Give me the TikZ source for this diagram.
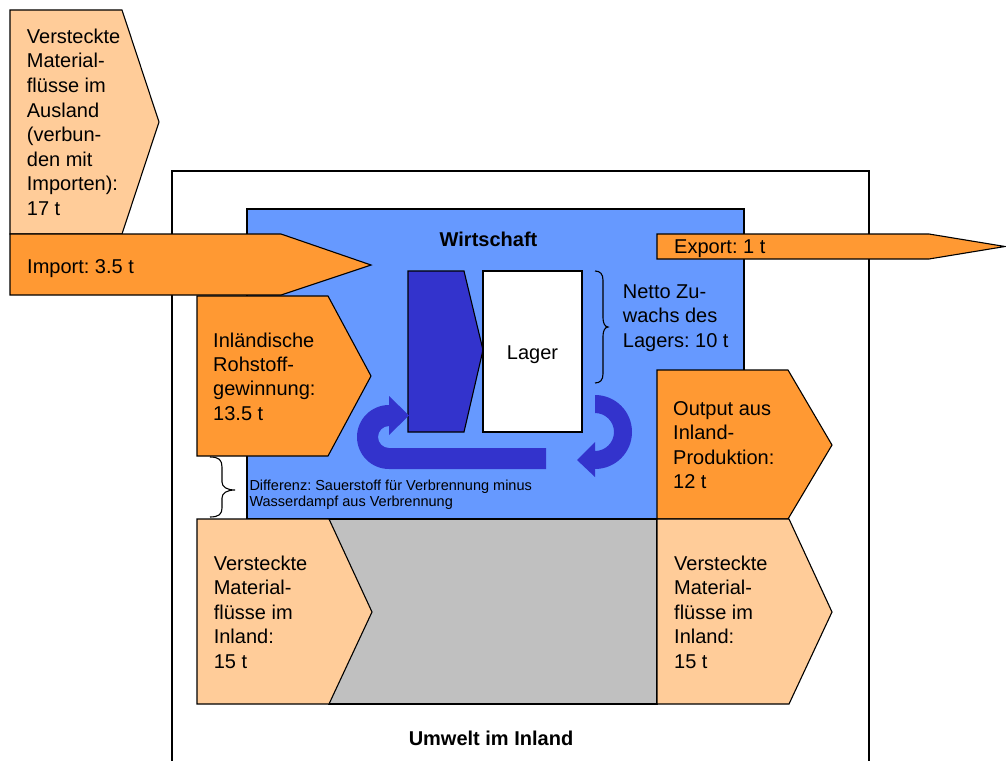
\documentclass[tikz,border=0pt]{standalone}
\usepackage{fontspec}
\setmainfont{Liberation Sans}
\frenchspacing
\definecolor{lightorange}{HTML}{FFCC99}
\definecolor{flow}{HTML}{FF9933}
\definecolor{economy}{HTML}{6699FF}
\definecolor{process}{HTML}{3333CC}
\definecolor{hidden}{HTML}{C0C0C0}
\tikzset{
  outline/.style={draw=black, line width=1.1pt, line join=miter},
  % multi-line labels are placed by the baseline of their last line
  label/.style={inner sep=0pt, anchor=base west, align=left,
    font=\fontsize{20}{24.5}\selectfont},
  title/.style={inner sep=0pt, anchor=base, font=\fontsize{20}{24}\selectfont\bfseries},
  note/.style={inner sep=0pt, anchor=base west, align=left,
    font=\fontsize{14.5}{16}\selectfont},
  bracket/.style={draw=black, line width=1.1pt}
}
\begin{document}
\begin{tikzpicture}[x=1pt, y=-1pt]
\useasboundingbox (0,0) rectangle (1006,760);

% domestic environment frame (open at the bottom)
\draw[line width=1.1pt] (172,765) -- (172,171) -- (869,171) -- (869,765);

% economy
\filldraw[outline, fill=economy] (247,209) rectangle (744,519);

% hidden domestic flows area
\filldraw[outline, fill=hidden] (329,519) rectangle (657,704);

% hidden flows abroad
\filldraw[outline, fill=lightorange]
  (10,10) -- (122,10) -- (159,122) -- (122,234) -- (10,234) -- cycle;

% import arrow
\filldraw[outline, fill=flow]
  (10,234) -- (281,234) -- (371,265) -- (281,295) -- (10,295) -- cycle;

% domestic extraction
\filldraw[outline, fill=flow]
  (197,296) -- (328,296) -- (371,376) -- (328,456) -- (197,456) -- cycle;

% hidden domestic flows (input side)
\filldraw[outline, fill=lightorange]
  (197,519) -- (329,519) -- (372,612) -- (329,704) -- (197,704) -- cycle;

% output from domestic production
\filldraw[outline, fill=flow]
  (657,370) -- (788,370) -- (832,445) -- (788,519) -- (657,519) -- cycle;

% hidden domestic flows (output side)
\filldraw[outline, fill=lightorange]
  (657,519) -- (789,519) -- (832,612) -- (789,704) -- (657,704) -- cycle;

% export arrow
\filldraw[outline, fill=flow]
  (657,234) -- (929,234) -- (1005,246.5) -- (929,259) -- (657,259) -- cycle;

% processing block and stock
\filldraw[outline, fill=process]
  (408,271) -- (464,271) -- (483,350) -- (464,432) -- (408,432) -- cycle;
\filldraw[outline, fill=white] (483,271) rectangle (582,432);

% recycling arrows
\fill[process] (546,448) -- (389,448) arc[start angle=90, end angle=270, radius=11]
  -- (389,435) -- (409,415.5) -- (389,396) -- (389,405)
  arc[start angle=270, end angle=90, radius=32] -- (546,469) -- cycle;
\fill[process] (595,395) arc[start angle=-90, end angle=90, radius=37]
  -- (595,477) -- (577,460) -- (595,442) -- (595,451)
  arc[start angle=90, end angle=-90, radius=19] -- cycle;

% braces
\draw[bracket] (595,271) .. controls (600,271) and (603,274) .. (603,280) -- (603,318)
  .. controls (603,323) and (605,327) .. (608,327)
  .. controls (605,327) and (603,331) .. (603,336) -- (603,374)
  .. controls (603,380) and (600,383) .. (595,383);
\draw[bracket] (210,457) .. controls (219,457) and (222,460) .. (222,467) -- (222,482)
  .. controls (222,487) and (227,490) .. (235,490)
  .. controls (227,490) and (222,493) .. (222,498) -- (222,508)
  .. controls (222,514) and (219,517) .. (210,517);

% texts
\node[label, font=\fontsize{20}{24.6}\selectfont] (ausland) at (26.7,215.5) {Versteckte\\Material-\\flüsse im\\Ausland\\(verbun-\\den mit\\Importen):\\17 t};
\node[label] (import) at (27,273.3) {Import: 3.5 t};
\node[title] (wirtschaft) at (488.5,246) {Wirtschaft};
\node[label, font=\fontsize{20}{24.4}\selectfont] (rohstoff) at (213,420.2) {Inländische\\Rohstoff-\\gewinnung:\\13.5 t};
\node[inner sep=0pt, anchor=base, font=\fontsize{20}{24}\selectfont] (lager) at (532.5,359) {Lager};
\node[label] (netto) at (622.7,347) {Netto Zu-\\wachs des\\Lagers: 10 t};
\node[label] (export) at (674,253) {Export: 1 t};
\node[label, font=\fontsize{20}{24.6}\selectfont] (output) at (673,488.8) {Output aus\\Inland-\\Produktion:\\12 t};
\node[note] (differenz) at (249.3,506.7) {Differenz: Sauerstoff für Verbrennung minus\\Wasserdampf aus Verbrennung};
\node[label] (inlandA) at (213.6,668) {Versteckte\\Material-\\flüsse im\\Inland:\\15 t};
\node[label] (inlandB) at (674,668) {Versteckte\\Material-\\flüsse im\\Inland:\\15 t};
\node[title] (umwelt) at (491,745) {Umwelt im Inland};
\end{tikzpicture}
\end{document}
